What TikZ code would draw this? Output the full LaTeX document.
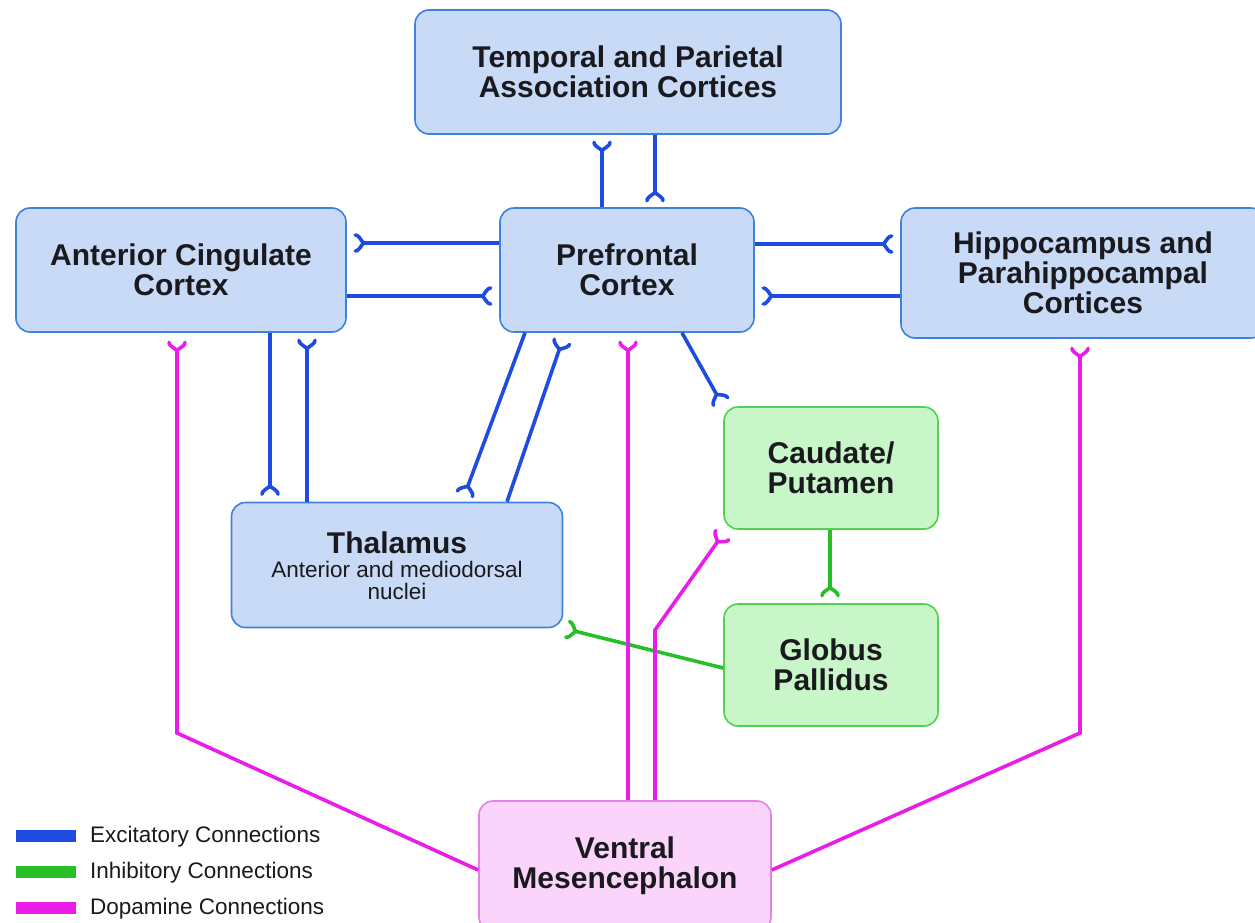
\documentclass[tikz,border=0pt]{standalone}
\usepackage{fontspec}
\setmainfont{Liberation Sans}
\usetikzlibrary{arrows.meta}
\definecolor{exc}{RGB}{30,75,225}
\definecolor{inh}{RGB}{40,190,40}
\definecolor{dop}{RGB}{232,30,232}
\definecolor{bfill}{RGB}{200,218,245}
\definecolor{bdraw}{RGB}{60,130,222}
\definecolor{gfill}{RGB}{200,246,200}
\definecolor{gdraw}{RGB}{80,210,80}
\definecolor{pfill}{RGB}{250,212,250}
\definecolor{pdraw}{RGB}{230,130,230}
\definecolor{txt}{RGB}{25,25,30}
\pgfdeclarearrow{
  name=Fork,
  parameters={\the\pgfarrowlength,\the\pgfarrowwidth},
  setup code={
    \pgfarrowssettipend{1.5pt}
    \pgfarrowssetbackend{-\pgfarrowlength}
    \pgfarrowssetlineend{-\pgfarrowlength}
    \pgfarrowssavethe\pgfarrowlength
    \pgfarrowssavethe\pgfarrowwidth
  },
  drawing code={
    \pgfsetdash{}{0pt}\pgfsetroundcap\pgfsetroundjoin
    \pgfpathmoveto{\pgfpoint{0pt}{0.5\pgfarrowwidth}}
    \pgfpathcurveto{\pgfpoint{-0.35\pgfarrowlength}{0.5\pgfarrowwidth}}{\pgfpoint{-0.55\pgfarrowlength}{0.32\pgfarrowwidth}}{\pgfpoint{-\pgfarrowlength}{0pt}}
    \pgfpathcurveto{\pgfpoint{-0.55\pgfarrowlength}{-0.32\pgfarrowwidth}}{\pgfpoint{-0.35\pgfarrowlength}{-0.5\pgfarrowwidth}}{\pgfpoint{0pt}{-0.5\pgfarrowwidth}}
    \pgfusepathqstroke
  },
  defaults={length=8pt, width=16pt}
}
\tikzset{
  box/.style={rounded corners=14pt, line width=1.6pt, align=center, text=txt,
    font=\fontsize{30}{30}\selectfont\bfseries, inner sep=0pt},
  bluebox/.style={box, fill=bfill, draw=bdraw},
  greenbox/.style={box, fill=gfill, draw=gdraw},
  pinkbox/.style={box, fill=pfill, draw=pdraw},
  syn/.style={line width=3.6pt, -{Fork[length=8pt,width=16pt,line width=3.2pt]}},
  excl/.style={syn, draw=exc},
  inhl/.style={syn, draw=inh},
  dopl/.style={syn, draw=dop},
  legtext/.style={anchor=west, text=txt, font=\fontsize{22.5}{24}\selectfont, inner sep=0pt}
}
\begin{document}
\begin{tikzpicture}[x=1pt,y=-1pt]
\useasboundingbox (0,0) rectangle (1255,922);
% boxes
\node[bluebox, minimum width=426pt, minimum height=124pt] (tpc) at (628,72) {Temporal and Parietal\\Association Cortices};
\node[bluebox, minimum width=330pt, minimum height=124pt] (acc) at (181,270) {Anterior Cingulate\\Cortex};
\node[bluebox, minimum width=254pt, minimum height=124pt] (pfc) at (627,270) {Prefrontal\\Cortex};
\node[bluebox, minimum width=364pt, minimum height=130pt] (hip) at (1083,273) {Hippocampus and\\Parahippocampal\\Cortices};
\node[bluebox, minimum width=331pt, minimum height=125pt] (thal) at (397,565) {};
\node[text=txt, align=center, font=\fontsize{30}{30}\selectfont\bfseries, inner sep=0pt] (thalt) at (397,543) {Thalamus};
\node[text=txt, align=center, font=\fontsize{22.5}{22}\selectfont, inner sep=0pt] (thals) at (397,580) {Anterior and mediodorsal\\nuclei};
\node[greenbox, minimum width=214pt, minimum height=122pt] (cau) at (831,468) {Caudate/\\Putamen};
\node[greenbox, minimum width=214pt, minimum height=122pt] (gp) at (831,665) {Globus\\Pallidus};
\node[pinkbox, minimum width=292pt, minimum height=130pt] (vm) at (625,866) {Ventral\\Mesencephalon};
% excitatory
\draw[excl, shorten >=6pt] ([xshift=-25pt]pfc.north) -- ([xshift=-26pt]tpc.south);
\draw[excl, shorten >=5pt] ([xshift=27pt]tpc.south) -- ([xshift=28pt]pfc.north);
\draw[excl, shorten >=7pt] ([yshift=27pt]pfc.west) -- ([yshift=27pt]acc.east);
\draw[excl, shorten >=7pt] ([yshift=-26pt]acc.east) -- ([yshift=-26pt]pfc.west);
\draw[excl, shorten >=7pt] ([yshift=26pt]pfc.east) -- ([yshift=29pt]hip.west);
\draw[excl, shorten >=7pt] ([yshift=-23pt]hip.west) -- ([yshift=-26pt]pfc.east);
\draw[excl, shorten >=6pt] ([xshift=89pt]acc.south) -- ([xshift=-127pt]thal.north);
\draw[excl, shorten >=6pt] ([xshift=-90pt]thal.north) -- ([xshift=126pt]acc.south);
\draw[excl, shorten >=7pt] ([xshift=-102pt]pfc.south) -- ([xshift=65pt]thal.north);
\draw[excl, shorten >=8pt] ([xshift=110pt]thal.north) -- ([xshift=-62pt]pfc.south);
\draw[excl, shorten >=4pt] ([xshift=55pt]pfc.south) -- (cau.north west);
% inhibitory
\draw[inhl, shorten >=6pt] ([xshift=-1pt]cau.south) -- ([xshift=-1pt]gp.north);
\draw[inhl, shorten >=3pt] ([yshift=-3pt]gp.west) -- (thal.south east);
% dopamine
\coordinate (d1) at (177,733);
\coordinate (d2) at (1080,733);
\coordinate (d3) at (655,630);
\draw[dopl, shorten >=8pt] ([yshift=-4pt]vm.west) -- (d1) -- (d1 |- acc.south);
\draw[dopl, shorten >=8pt] ([xshift=3pt]vm.north) -- ([xshift=3pt]vm.north |- pfc.south);
\draw[dopl, shorten >=5pt] ([xshift=30pt]vm.north) -- (d3) -- ([xshift=-105pt]cau.south);
\draw[dopl, shorten >=8pt] ([yshift=-4pt]vm.east) -- (d2) -- (d2 |- hip.south);
% legend
\fill[exc] (16,830) rectangle (76,842);
\fill[inh] (16,866) rectangle (76,878);
\fill[dop] (16,902) rectangle (76,914);
\node[legtext] (l1) at (90,837) {Excitatory Connections};
\node[legtext] (l2) at (90,873) {Inhibitory Connections};
\node[legtext] (l3) at (90,909) {Dopamine Connections};
\end{tikzpicture}
\end{document}
